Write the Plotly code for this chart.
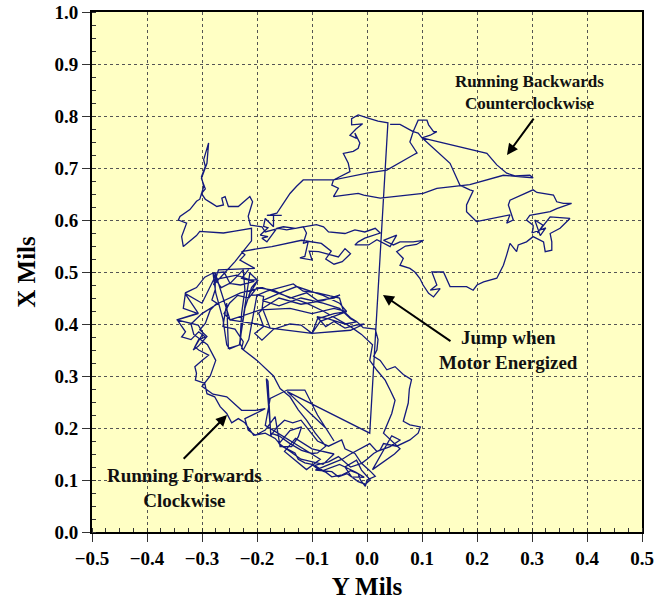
import plotly.graph_objects as go

# Shaft orbit trace: horizontal = Y displacement (mils), vertical = X displacement (mils)
# Forward (clockwise) run in the lower-left region, as (Y, X) pairs
forward_run = [
    # outer ring, first lap
    (-0.215, 0.505), (-0.228, 0.488), (-0.205, 0.482), (-0.230, 0.475), (-0.250, 0.478),
    (-0.265, 0.470), (-0.275, 0.485), (-0.280, 0.498), (-0.275, 0.460), (-0.262, 0.410),
    (-0.255, 0.360), (-0.250, 0.352), (-0.232, 0.360), (-0.228, 0.392), (-0.222, 0.430),
    (-0.210, 0.470), (-0.198, 0.485), (-0.215, 0.455), (-0.198, 0.456), (-0.182, 0.463),
    (-0.160, 0.470), (-0.134, 0.477), (-0.116, 0.463), (-0.090, 0.460), (-0.067, 0.454),
    (-0.050, 0.450), (-0.043, 0.425), (-0.030, 0.412), (-0.019, 0.405), (-0.007, 0.393),
    (0.015, 0.390), (0.020, 0.370), (0.018, 0.350), (0.012, 0.338), (0.024, 0.330),
    (0.036, 0.312), (0.051, 0.318), (0.066, 0.303), (0.081, 0.293), (0.077, 0.275),
    (0.075, 0.248), (0.070, 0.230), (0.066, 0.213), (0.078, 0.206), (0.097, 0.202),
    (0.093, 0.190), (0.078, 0.177), (0.054, 0.165), (0.030, 0.170), (0.024, 0.158),
    (0.012, 0.151), (0.000, 0.140), (-0.010, 0.132), (0.005, 0.118), (0.015, 0.107),
    (0.000, 0.100), (-0.003, 0.088), (-0.012, 0.100), (-0.016, 0.112), (-0.030, 0.118),
    (-0.045, 0.110), (-0.064, 0.106), (-0.075, 0.115), (-0.088, 0.120), (-0.100, 0.130),
    (-0.113, 0.133), (-0.125, 0.140), (-0.131, 0.152), (-0.145, 0.160), (-0.155, 0.165),
    (-0.167, 0.180), (-0.185, 0.190), (-0.206, 0.186), (-0.215, 0.200), (-0.222, 0.210),
    (-0.234, 0.218), (-0.246, 0.210), (-0.255, 0.228), (-0.267, 0.241), (-0.277, 0.260),
    (-0.291, 0.266), (-0.295, 0.286), (-0.312, 0.292), (-0.310, 0.305), (-0.313, 0.318),
    (-0.300, 0.330), (-0.288, 0.340), (-0.306, 0.350), (-0.313, 0.356), (-0.306, 0.370),
    (-0.294, 0.375), (-0.306, 0.385), (-0.320, 0.370), (-0.337, 0.375), (-0.330, 0.385),
    (-0.345, 0.408), (-0.320, 0.415), (-0.307, 0.420), (-0.334, 0.430), (-0.330, 0.460),
    (-0.310, 0.470), (-0.295, 0.490), (-0.280, 0.498), (-0.260, 0.500), (-0.249, 0.478),
    # central oval
    (-0.225, 0.504), (-0.222, 0.466), (-0.228, 0.420), (-0.231, 0.363), (-0.225, 0.350),
    (-0.215, 0.370), (-0.200, 0.456), (-0.188, 0.453), (-0.191, 0.427), (-0.197, 0.421),
    (-0.188, 0.395), (-0.204, 0.382), (-0.191, 0.369), (-0.170, 0.390), (-0.140, 0.400),
    (-0.120, 0.398), (-0.100, 0.382), (-0.090, 0.410), (-0.060, 0.420), (-0.037, 0.424),
    (-0.050, 0.440), (-0.080, 0.455), (-0.128, 0.472), (-0.158, 0.460), (-0.190, 0.445),
    (-0.160, 0.435), (-0.120, 0.450), (-0.080, 0.440), (-0.050, 0.430), (-0.030, 0.410),
    (-0.019, 0.404), (-0.040, 0.400), (-0.070, 0.410), (-0.091, 0.414), (-0.075, 0.395),
    (-0.060, 0.405), (-0.040, 0.392), (-0.020, 0.398), (-0.005, 0.400), (-0.030, 0.388),
    (-0.100, 0.382), (-0.176, 0.392), (-0.200, 0.400), (-0.249, 0.408), (-0.260, 0.420),
    (-0.250, 0.440), (-0.235, 0.455), (-0.215, 0.450), (-0.200, 0.470), (-0.170, 0.465),
    (-0.140, 0.450), (-0.110, 0.460), (-0.090, 0.445), (-0.060, 0.450), (-0.049, 0.456),
    (-0.080, 0.445), (-0.120, 0.438), (-0.160, 0.450), (-0.190, 0.430), (-0.176, 0.392),
    (-0.100, 0.382), (-0.085, 0.405), (-0.037, 0.424), (-0.060, 0.430), (-0.100, 0.420),
    (-0.140, 0.430), (-0.194, 0.427), (-0.249, 0.408),
    # left cluster
    (-0.276, 0.498), (-0.276, 0.466), (-0.282, 0.446), (-0.273, 0.440), (-0.285, 0.427),
    (-0.294, 0.401), (-0.304, 0.389), (-0.291, 0.376), (-0.307, 0.357), (-0.316, 0.350),
    (-0.298, 0.382), (-0.307, 0.398), (-0.346, 0.408), (-0.307, 0.421), (-0.331, 0.459),
    (-0.300, 0.440), (-0.279, 0.485), (-0.237, 0.494), (-0.213, 0.485), (-0.200, 0.485),
    (-0.213, 0.498), (-0.228, 0.392), (-0.231, 0.360), (-0.252, 0.353), (-0.255, 0.440),
    (-0.262, 0.395), (-0.240, 0.390), (-0.225, 0.366), (-0.228, 0.353),
    # diagonal and inner lower ring
    (-0.200, 0.330), (-0.188, 0.318), (-0.170, 0.300), (-0.158, 0.276), (-0.140, 0.260),
    (-0.125, 0.235), (-0.110, 0.215), (-0.094, 0.190), (-0.080, 0.170), (-0.075, 0.165),
    (-0.090, 0.152), (-0.100, 0.151), (-0.119, 0.157), (-0.140, 0.170), (-0.160, 0.185),
    (-0.175, 0.190), (-0.183, 0.295), (-0.180, 0.290), (-0.175, 0.185), (-0.165, 0.200),
    (-0.150, 0.215), (-0.135, 0.210), (-0.120, 0.215), (-0.105, 0.195), (-0.090, 0.175),
    (-0.070, 0.165), (-0.046, 0.177), (-0.040, 0.160), (-0.022, 0.151), (-0.010, 0.132),
    (-0.030, 0.125), (-0.052, 0.145), (-0.070, 0.135), (-0.095, 0.128), (-0.080, 0.118),
    (-0.050, 0.130), (-0.020, 0.115), (-0.005, 0.105),
    # bottom cluster
    (-0.028, 0.106), (-0.040, 0.125), (-0.019, 0.138), (-0.010, 0.119), (0.006, 0.100),
    (-0.003, 0.092), (-0.016, 0.097), (-0.036, 0.112), (-0.052, 0.106), (-0.064, 0.116),
    (-0.094, 0.119), (-0.064, 0.132), (-0.045, 0.140), (-0.030, 0.150), (0.005, 0.170),
    (0.018, 0.155), (0.042, 0.164), (0.060, 0.177), (0.045, 0.185),
    (0.010, 0.120), (0.030, 0.135), (0.050, 0.150), (0.060, 0.160), (0.045, 0.175),
    (0.030, 0.190), (0.045, 0.228), (0.051, 0.253), (0.042, 0.273), (0.033, 0.292),
    (0.018, 0.311), (0.005, 0.330), (0.010, 0.360), (-0.010, 0.380), (-0.030, 0.395),
    (-0.055, 0.410), (-0.080, 0.425), (-0.110, 0.440), (-0.150, 0.455), (-0.190, 0.470),
    (-0.230, 0.460), (-0.270, 0.440), (-0.300, 0.420), (-0.320, 0.400), (-0.315, 0.380),
    (-0.290, 0.360), (-0.275, 0.330), (-0.285, 0.300), (-0.300, 0.280), (-0.280, 0.265),
    (-0.255, 0.260), (-0.228, 0.234), (-0.203, 0.234), (-0.185, 0.237), (-0.222, 0.218),
    (-0.216, 0.196), (-0.203, 0.186), (-0.185, 0.196), (-0.167, 0.222), (-0.158, 0.164),
    (-0.137, 0.164), (-0.125, 0.183), (-0.119, 0.202), (-0.140, 0.195), (-0.160, 0.170),
    (-0.120, 0.140), (-0.080, 0.130), (-0.060, 0.150), (-0.100, 0.160), (-0.130, 0.180),
    (-0.150, 0.155), (-0.110, 0.120), (-0.085, 0.140), (-0.185, 0.205),
    # quadrilateral and approach to the jump
    (-0.176, 0.257), (-0.145, 0.273), (-0.113, 0.273), (-0.090, 0.225), (-0.060, 0.175),
    (-0.075, 0.200), (-0.145, 0.270), (0.005, 0.190),
]

# Jump in position when the motor is energized
jump = [(0.005, 0.190), (0.038, 0.787)]

# Backward (counterclockwise) run in the upper region, as (Y, X) pairs
backward_run = [
    (0.038, 0.787), (0.020, 0.790), (0.005, 0.795), (-0.010, 0.800), (-0.016, 0.802),
    (-0.028, 0.795), (-0.028, 0.783), (-0.008, 0.785), (-0.020, 0.775), (-0.031, 0.763),
    (-0.019, 0.757), (-0.022, 0.767), (-0.013, 0.748), (-0.016, 0.738), (-0.025, 0.732),
    (-0.043, 0.728), (-0.034, 0.709), (-0.031, 0.693), (-0.058, 0.680), (-0.061, 0.677),
    (-0.090, 0.677), (-0.116, 0.677), (-0.128, 0.665), (-0.140, 0.651), (-0.152, 0.632),
    (-0.164, 0.613), (-0.176, 0.610), (-0.182, 0.609), (-0.155, 0.609), (-0.170, 0.609),
    (-0.170, 0.587), (-0.185, 0.603), (-0.188, 0.588), (-0.180, 0.585), (-0.194, 0.571),
    (-0.180, 0.568), (-0.191, 0.565), (-0.182, 0.558), (-0.164, 0.584), (-0.152, 0.587),
    (-0.130, 0.584), (-0.116, 0.587), (-0.110, 0.575), (-0.116, 0.555), (-0.107, 0.558),
    (-0.113, 0.530), (-0.122, 0.527), (-0.100, 0.523), (-0.105, 0.540), (-0.088, 0.539),
    (-0.052, 0.529), (-0.040, 0.545), (-0.030, 0.535), (-0.045, 0.520), (-0.060, 0.515),
    (-0.075, 0.525), (-0.065, 0.540), (-0.083, 0.555), (-0.119, 0.561), (-0.173, 0.549),
    (-0.198, 0.545), (-0.228, 0.539), (-0.222, 0.533), (-0.231, 0.523), (-0.204, 0.507),
    (-0.270, 0.504), (-0.279, 0.475), (-0.240, 0.520), (-0.210, 0.560), (-0.210, 0.584),
    (-0.243, 0.578), (-0.261, 0.575), (-0.304, 0.578), (-0.310, 0.570), (-0.334, 0.549),
    (-0.337, 0.568), (-0.328, 0.594), (-0.343, 0.600), (-0.340, 0.607), (-0.322, 0.620),
    (-0.310, 0.636), (-0.304, 0.640), (-0.297, 0.664), (-0.301, 0.683), (-0.294, 0.703),
    (-0.297, 0.716), (-0.288, 0.748), (-0.291, 0.709), (-0.301, 0.680), (-0.294, 0.660),
    (-0.301, 0.651), (-0.294, 0.640), (-0.282, 0.632), (-0.273, 0.626), (-0.261, 0.629),
    (-0.264, 0.642), (-0.258, 0.645), (-0.252, 0.626), (-0.234, 0.626), (-0.213, 0.645),
    (-0.208, 0.635), (-0.216, 0.607), (-0.212, 0.590), (-0.191, 0.587), (-0.185, 0.577),
    (-0.173, 0.581), (-0.161, 0.584), (-0.146, 0.581), (-0.092, 0.591), (-0.079, 0.587),
    (-0.070, 0.577), (-0.040, 0.574), (-0.022, 0.581), (-0.004, 0.577), (0.015, 0.584),
    (0.024, 0.575), (-0.004, 0.565), (-0.016, 0.558), (-0.022, 0.552), (0.003, 0.552),
    (0.018, 0.562), (0.042, 0.549), (0.054, 0.571), (0.030, 0.561), (0.048, 0.552),
    (0.060, 0.558), (0.084, 0.558), (0.103, 0.561), (0.090, 0.553), (0.070, 0.550),
    (0.054, 0.539), (0.066, 0.526), (0.060, 0.513), (0.078, 0.507), (0.087, 0.500),
    (0.096, 0.488), (0.102, 0.475), (0.112, 0.459), (0.121, 0.452), (0.133, 0.468),
    (0.115, 0.465), (0.127, 0.475), (0.118, 0.500), (0.139, 0.500), (0.151, 0.472),
    (0.181, 0.472), (0.193, 0.465), (0.200, 0.475), (0.212, 0.481), (0.236, 0.488),
    (0.242, 0.500), (0.248, 0.513), (0.254, 0.533), (0.260, 0.555), (0.272, 0.539),
    (0.275, 0.552), (0.290, 0.558), (0.302, 0.568), (0.321, 0.558), (0.324, 0.539),
    (0.336, 0.542), (0.336, 0.558), (0.333, 0.574), (0.351, 0.584), (0.369, 0.603),
    (0.333, 0.606), (0.310, 0.575), (0.320, 0.590), (0.305, 0.600), (0.315, 0.570),
    (0.325, 0.585), (0.300, 0.575), (0.302, 0.584), (0.302, 0.590), (0.290, 0.600),
    (0.296, 0.609), (0.333, 0.616), (0.345, 0.622), (0.372, 0.632), (0.357, 0.632),
    (0.345, 0.635), (0.339, 0.648), (0.309, 0.653), (0.302, 0.658), (0.260, 0.638),
    (0.257, 0.629), (0.266, 0.600), (0.254, 0.594), (0.260, 0.610), (0.224, 0.603),
    (0.199, 0.597), (0.181, 0.616), (0.181, 0.629), (0.193, 0.656), (0.187, 0.658),
    (0.169, 0.667), (0.151, 0.709), (0.100, 0.758), (0.093, 0.767), (0.084, 0.770),
    (0.093, 0.792), (0.109, 0.792), (0.112, 0.783), (0.121, 0.770), (0.127, 0.770),
    (0.115, 0.763), (0.100, 0.758), (0.218, 0.728), (0.236, 0.706), (0.254, 0.690),
    (0.269, 0.685), (0.296, 0.686), (0.302, 0.681), (0.280, 0.683), (0.248, 0.686),
    (0.187, 0.668), (0.127, 0.661), (0.102, 0.651), (0.024, 0.642), (-0.006, 0.648),
    (-0.016, 0.651), (-0.061, 0.645), (-0.052, 0.661), (-0.064, 0.667), (-0.061, 0.677),
    (0.000, 0.690), (0.036, 0.696), (0.084, 0.725), (0.091, 0.729), (0.078, 0.750),
    (0.084, 0.770), (0.060, 0.784), (0.042, 0.784),
]

y_axis_ticks = [-0.5, -0.4, -0.3, -0.2, -0.1, 0.0, 0.1, 0.2, 0.3, 0.4, 0.5]
x_axis_ticks = [0.0, 0.1, 0.2, 0.3, 0.4, 0.5, 0.6, 0.7, 0.8, 0.9, 1.0]

orbit = forward_run + jump[1:] + backward_run[1:]
y_mils = [p[0] for p in orbit]
x_mils = [p[1] for p in orbit]

LINE = "#141a7e"
FONT = "Liberation Serif"

fig = go.Figure()
fig.add_trace(go.Scatter(
    x=y_mils, y=x_mils, mode="lines",
    line=dict(color=LINE, width=1.3),
    hoverinfo="skip", showlegend=False,
))

axis_common = dict(
    showline=True, linecolor="black", linewidth=2, mirror=True,
    ticks="outside", ticklen=8, tickwidth=1, tickcolor="#333",
    showgrid=True, gridcolor="#555", griddash="dot", gridwidth=1,
    zeroline=False, tickformat=".1f", automargin=False,
    tickfont=dict(family=FONT, size=19, color="black", weight="bold"),
    minor=dict(ticks="inside", ticklen=4, tickcolor="#333", showgrid=False),
)

fig.update_xaxes(
    range=[-0.5, 0.5], tickvals=y_axis_ticks,
    title=dict(text="<b>Y Mils</b>", font=dict(family=FONT, size=25, color="black"), standoff=10),
    **axis_common,
)
fig.update_xaxes(minor_dtick=0.025)
fig.update_yaxes(
    range=[0, 1], tickvals=x_axis_ticks,
    title=dict(text="<b>X Mils</b>", font=dict(family=FONT, size=25, color="black"), standoff=12),
    **axis_common,
)
fig.update_yaxes(minor_dtick=0.025)

notes = [
    ("<b>Running Backwards</b><br><b>Counterclockwise</b>", 0.296, 0.845, 17),
    ("<b>Jump when</b><br><b>Motor Energized</b>", 0.258, 0.350, 19),
    ("<b>Running Forwards</b><br><b>Clockwise</b>", -0.331, 0.085, 19),
]
for text, nx, ny, size in notes:
    fig.add_annotation(x=nx, y=ny, text=text, showarrow=False,
                       font=dict(family=FONT, size=size, color="#111"),
                       xref="x", yref="y")

arrows = [
    ((0.305, 0.798), (0.2545, 0.725)),
    ((0.1545, 0.365), (0.029, 0.456)),
    ((-0.336, 0.138), (-0.2545, 0.225)),
]
for (sx, sy), (tx, ty) in arrows:
    fig.add_annotation(x=tx, y=ty, ax=sx, ay=sy, xref="x", yref="y", axref="x", ayref="y",
                       text="", showarrow=True, arrowhead=2, arrowsize=1.1, arrowwidth=2,
                       arrowcolor="black", standoff=0)

fig.update_layout(
    width=656, height=601,
    margin=dict(l=92, r=14, t=12, b=69),
    paper_bgcolor="white", plot_bgcolor="#FFFFC4",
    font=dict(family=FONT),
)

fig.write_html("out.html")
